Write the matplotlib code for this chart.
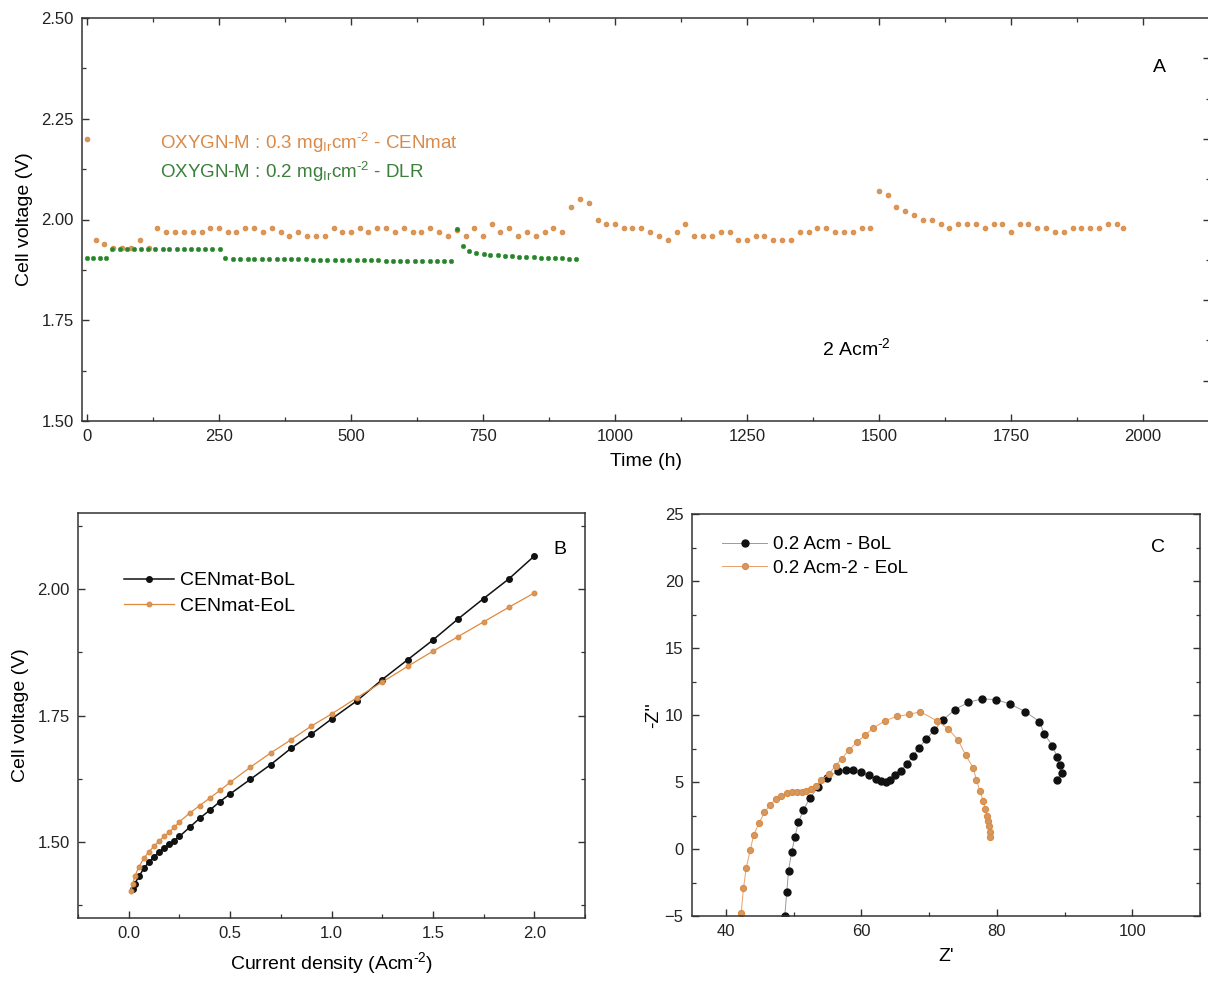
import matplotlib
matplotlib.use("Agg")
import matplotlib.pyplot as plt
from matplotlib.ticker import MultipleLocator, FixedLocator, NullFormatter

plt.rcParams['font.family'] = ['Liberation Sans', 'DejaVu Sans']
plt.rcParams['mathtext.fontset'] = 'custom'
plt.rcParams['mathtext.rm'] = 'Liberation Sans'
plt.rcParams['mathtext.it'] = 'Liberation Sans'
plt.rcParams['mathtext.default'] = 'regular'

# ---------------- Panel A data ----------------
cen_time = [0, 17, 33, 50, 67, 83, 100, 117, 133, 150, 167, 183, 200, 217, 233, 250,
            267, 283, 300, 317, 333, 350, 367, 383, 400, 417, 433, 450, 467, 483, 500,
            517, 533, 550, 567, 583, 600, 617, 633, 650, 667, 683, 700, 717, 733, 750,
            767, 783, 800, 817, 833, 850, 867, 883, 900, 917, 933, 950, 967, 983, 1000,
            1017, 1033, 1050, 1067, 1083, 1100, 1117, 1133, 1150, 1167, 1183, 1200,
            1217, 1233, 1250, 1267, 1283, 1300, 1317, 1333, 1350, 1367, 1383, 1400,
            1417, 1433, 1450, 1467, 1483, 1500, 1517, 1533, 1550, 1567, 1583, 1600,
            1617, 1633, 1650, 1667, 1683, 1700, 1717, 1733, 1750, 1767, 1783, 1800,
            1817, 1833, 1850, 1867, 1883, 1900, 1917, 1933, 1950, 1963]
cen_volt = [2.20, 1.95, 1.94, 1.93, 1.93, 1.93, 1.95, 1.93, 1.98, 1.97, 1.97, 1.97, 1.97,
            1.97, 1.98, 1.98, 1.97, 1.97, 1.98, 1.98, 1.97, 1.98, 1.97, 1.96, 1.97, 1.96,
            1.96, 1.96, 1.98, 1.97, 1.97, 1.98, 1.97, 1.98, 1.98, 1.97, 1.98, 1.97, 1.97,
            1.98, 1.97, 1.96, 1.975, 1.96, 1.98, 1.96, 1.99, 1.97, 1.98, 1.96, 1.97, 1.96,
            1.97, 1.98, 1.97, 2.03, 2.05, 2.04, 2.00, 1.99, 1.99, 1.98, 1.98, 1.98, 1.97,
            1.96, 1.95, 1.97, 1.99, 1.96, 1.96, 1.96, 1.97, 1.97, 1.95, 1.95, 1.96, 1.96,
            1.95, 1.95, 1.95, 1.97, 1.97, 1.98, 1.98, 1.97, 1.97, 1.97, 1.98, 1.98, 2.07,
            2.06, 2.03, 2.02, 2.01, 2.00, 2.00, 1.99, 1.98, 1.99, 1.99, 1.99, 1.98, 1.99,
            1.99, 1.97, 1.99, 1.99, 1.98, 1.98, 1.97, 1.97, 1.98, 1.98, 1.98, 1.98, 1.99,
            1.99, 1.98]

dlr_time = [0, 12, 24, 36,
            48, 62, 75, 89, 102, 116, 129, 143, 156, 170, 183, 197, 210, 224, 237, 251,
            262, 276, 290, 304, 317, 331, 345, 359, 373, 386, 400, 414, 428, 442, 455, 469,
            483, 497, 511, 524, 538, 552, 566, 580, 593, 607, 621, 635, 649, 662, 676, 690,
            700, 712, 724, 737, 751, 764, 778, 791, 805, 818, 832, 846, 859, 873, 886, 900,
            913, 927]
dlr_volt = [1.905, 1.905, 1.905, 1.905,
            1.926, 1.926, 1.926, 1.926, 1.926, 1.926, 1.926, 1.926, 1.926, 1.926, 1.926,
            1.926, 1.926, 1.926, 1.926, 1.926,
            1.904, 1.903, 1.903, 1.903, 1.902, 1.902, 1.902, 1.902, 1.901, 1.901, 1.901,
            1.901, 1.900, 1.900, 1.900, 1.900, 1.900, 1.899, 1.899, 1.899, 1.899, 1.899,
            1.898, 1.898, 1.898, 1.898, 1.898, 1.898, 1.898, 1.898, 1.898, 1.898,
            1.977, 1.934, 1.923, 1.917, 1.915, 1.913, 1.911, 1.910, 1.909, 1.908, 1.907,
            1.906, 1.905, 1.905, 1.904, 1.904, 1.903, 1.903]

# ---------------- Panel B data ----------------
j_bol = [0.02, 0.03, 0.05, 0.075, 0.1, 0.125, 0.15, 0.175, 0.2, 0.225, 0.25, 0.3, 0.35,
         0.4, 0.45, 0.5, 0.6, 0.7, 0.8, 0.9, 1.0, 1.125, 1.25, 1.375, 1.5, 1.625, 1.75,
         1.875, 2.0]
v_bol = [1.407, 1.418, 1.432, 1.448, 1.461, 1.471, 1.480, 1.488, 1.496, 1.503, 1.511,
         1.529, 1.547, 1.563, 1.580, 1.595, 1.624, 1.653, 1.685, 1.713, 1.743, 1.779,
         1.821, 1.860, 1.899, 1.941, 1.981, 2.020, 2.065]
j_eol = [0.01, 0.02, 0.03, 0.05, 0.075, 0.1, 0.125, 0.15, 0.175, 0.2, 0.225, 0.25, 0.3,
         0.35, 0.4, 0.45, 0.5, 0.6, 0.7, 0.8, 0.9, 1.0, 1.125, 1.25, 1.375, 1.5, 1.625,
         1.75, 1.875, 2.0]
v_eol = [1.403, 1.418, 1.432, 1.451, 1.468, 1.481, 1.492, 1.502, 1.511, 1.520, 1.529,
         1.540, 1.557, 1.572, 1.587, 1.602, 1.618, 1.648, 1.676, 1.702, 1.729, 1.753,
         1.785, 1.816, 1.847, 1.877, 1.906, 1.935, 1.964, 1.992]

# ---------------- Panel C data ----------------
zr_bol = [48.7, 49.0, 49.25, 49.7, 50.2, 50.7, 51.45, 52.4, 53.6, 54.9, 56.5, 57.7, 58.8,
          60.0, 61.1, 62.1, 62.9, 63.6, 64.3, 65.0, 65.8, 66.7, 67.6, 68.5, 69.6, 70.8,
          72.1, 73.8, 75.8, 77.8, 79.9, 81.95, 84.2, 86.3, 87.0, 88.2, 88.9, 89.3, 89.6,
          88.9]
zi_bol = [-4.97, -3.18, -1.62, -0.25, 0.92, 1.99, 2.91, 3.81, 4.6, 5.3, 5.8, 5.93, 5.93,
          5.75, 5.5, 5.25, 5.08, 5.02, 5.17, 5.5, 5.84, 6.34, 6.91, 7.55, 8.2, 8.9, 9.65,
          10.4, 10.95, 11.2, 11.15, 10.82, 10.25, 9.5, 8.6, 7.71, 6.88, 6.26, 5.67, 5.17]
zr_eol = [42.25, 42.6, 43.0, 43.6, 44.1, 44.9, 45.7, 46.5, 47.4, 48.2, 49.0, 49.7, 50.5,
          51.2, 51.9, 52.5, 53.3, 54.1, 55.2, 56.2, 57.1, 58.2, 59.3, 60.5, 61.7, 63.5,
          65.3, 67.1, 68.7, 71.1, 72.8, 74.3, 75.4, 76.5, 77.0, 77.5, 78.0, 78.3, 78.6,
          78.7, 78.9, 78.95, 79.0]
zi_eol = [-4.78, -2.94, -1.42, -0.07, 1.04, 1.94, 2.74, 3.28, 3.73, 3.98, 4.18, 4.28,
          4.28, 4.28, 4.35, 4.48, 4.72, 5.15, 5.6, 6.2, 6.75, 7.4, 7.95, 8.48, 9.0, 9.58,
          9.9, 10.05, 10.25, 9.58, 8.98, 8.12, 7.0, 6.08, 5.15, 4.33, 3.58, 3.0, 2.5,
          2.08, 1.7, 1.26, 0.9]

ORANGE = '#E0893C'
ORANGE_FACE = '#CF9A66'
GREEN = '#2E7F32'
TXT_OR = '#D98A48'
TXT_GR = '#3A7F3A'
SPINE = '#333333'
HY = '\u2010'  # short hyphen used in superscripts

W, H = 1208, 983
fig = plt.figure(figsize=(W / 100, H / 100), dpi=100)


def box(l, t, r, b):
    return [l / W, 1 - b / H, (r - l) / W, (b - t) / H]


def style(ax, top=True, right=True):
    for s in ax.spines.values():
        s.set_color(SPINE)
        s.set_linewidth(1.1)
    ax.tick_params(which='both', direction='in', top=top, right=right,
                   colors=SPINE, labelcolor='#222222', labelsize=12)
    ax.tick_params(which='major', length=5, width=1.0, pad=6)
    ax.tick_params(which='minor', length=3, width=0.9)


# ---------------- Panel A ----------------
axA = fig.add_axes(box(82, 18, 1210, 421))
axA.plot(cen_time, cen_volt, 'o', ms=3.3, mfc=ORANGE_FACE, mec=ORANGE, mew=0.7,
         linestyle='none')
axA.plot(dlr_time, dlr_volt, 'o', ms=3.2, mfc=GREEN, mec='#3C9A3C', mew=0.5,
         linestyle='none')
axA.set_xlim(-9.5, 2127)
axA.set_ylim(1.5, 2.5)
axA.xaxis.set_major_locator(MultipleLocator(250))
axA.xaxis.set_minor_locator(MultipleLocator(125))
axA.yaxis.set_major_locator(MultipleLocator(0.25))
axA.yaxis.set_minor_locator(MultipleLocator(0.125))
axA.yaxis.set_major_formatter(matplotlib.ticker.FormatStrFormatter('%.2f'))
style(axA, top=True, right=False)
axA.set_xlabel('Time (h)', fontsize=14, labelpad=6)
axA.set_ylabel('Cell voltage (V)', fontsize=14, labelpad=6)
axA.text(138, 2.19, 'OXYGN-M : 0.3 mg$_{Ir}$cm$^{' + HY + '2}$ - CENmat', color=TXT_OR,
         fontsize=13.5, va='center', ha='left')
axA.text(138, 2.118, 'OXYGN-M : 0.2 mg$_{Ir}$cm$^{' + HY + '2}$ - DLR', color=TXT_GR,
         fontsize=13.5, va='center', ha='left')
axA.text(1392, 1.681, '2 Acm$^{' + HY + '2}$', fontsize=14, va='center', ha='left')
axA.text(2032, 2.378, 'A', fontsize=14, va='center', ha='center')
# secondary right axis (only ticks visible, labels cropped)
axA2 = axA.twinx()
axA2.set_ylim(1.5, 2.5)
axA2.yaxis.set_major_locator(FixedLocator([1.6, 1.8, 2.0, 2.2, 2.4]))
axA2.yaxis.set_minor_locator(FixedLocator([1.7, 1.9, 2.1, 2.3]))
axA2.yaxis.set_major_formatter(NullFormatter())
for s in axA2.spines.values():
    s.set_visible(False)
axA2.tick_params(which='both', direction='in', colors=SPINE)
axA2.tick_params(which='major', length=5, width=1.0)
axA2.tick_params(which='minor', length=3, width=0.9)

# ---------------- Panel B ----------------
axB = fig.add_axes(box(78, 513, 585, 918))
axB.plot(j_bol, v_bol, '-o', color='#111111', lw=1.1, ms=4.0, mfc='#111111',
         mec='#111111', label='CENmat-BoL')
axB.plot(j_eol, v_eol, '-o', color=ORANGE, lw=0.9, ms=3.4, mfc=ORANGE_FACE,
         mec=ORANGE, mew=0.8, label='CENmat-EoL')
axB.set_xlim(-0.25, 2.25)
axB.set_ylim(1.35, 2.15)
axB.xaxis.set_major_locator(MultipleLocator(0.5))
axB.xaxis.set_minor_locator(MultipleLocator(0.25))
axB.yaxis.set_major_locator(FixedLocator([1.5, 1.75, 2.0]))
axB.yaxis.set_minor_locator(FixedLocator([1.375, 1.625, 1.875, 2.125]))
axB.yaxis.set_major_formatter(matplotlib.ticker.FormatStrFormatter('%.2f'))
axB.xaxis.set_major_formatter(matplotlib.ticker.FormatStrFormatter('%.1f'))
style(axB, top=False, right=True)
axB.set_xlabel('Current density (Acm$^{' + HY + '2}$)', fontsize=14, labelpad=6)
axB.set_ylabel('Cell voltage (V)', fontsize=14, labelpad=6)
axB.legend(loc='upper left', bbox_to_anchor=(0.09, 0.855), frameon=False,
           fontsize=14, handlelength=2.6, handletextpad=0.3, labelspacing=0.42,
           borderaxespad=0, borderpad=0, numpoints=1)
axB.text(2.124, 2.077, 'B', fontsize=14, va='center', ha='center')

# ---------------- Panel C ----------------
axC = fig.add_axes(box(692, 514, 1200, 916))
axC.plot(zr_bol, zi_bol, '-o', color='#9A9A9A', lw=0.7, ms=5, mfc='#111111',
         mec='#111111', label='0.2 Acm - BoL')
axC.plot(zr_eol, zi_eol, '-o', color='#E8A06A', lw=0.7, ms=4.4, mfc=ORANGE_FACE,
         mec=ORANGE, mew=0.8, label='0.2 Acm-2 - EoL')
axC.set_xlim(35, 110)
axC.set_ylim(-5, 25)
axC.xaxis.set_major_locator(MultipleLocator(20))
axC.xaxis.set_minor_locator(MultipleLocator(10))
axC.yaxis.set_major_locator(MultipleLocator(5))
axC.yaxis.set_minor_locator(MultipleLocator(2.5))
style(axC, top=False, right=True)
axC.set_xlabel("Z'", fontsize=14, labelpad=6)
axC.set_ylabel("-Z''", fontsize=14, labelpad=2)
axC.legend(loc='upper left', bbox_to_anchor=(0.06, 0.945), frameon=False,
           fontsize=13.5, handlelength=2.4, handletextpad=0.3, labelspacing=0.35,
           borderaxespad=0, borderpad=0, numpoints=1)
axC.text(103.8, 22.5, 'C', fontsize=14, va='center', ha='center')

fig.savefig('out.png', dpi=100)
